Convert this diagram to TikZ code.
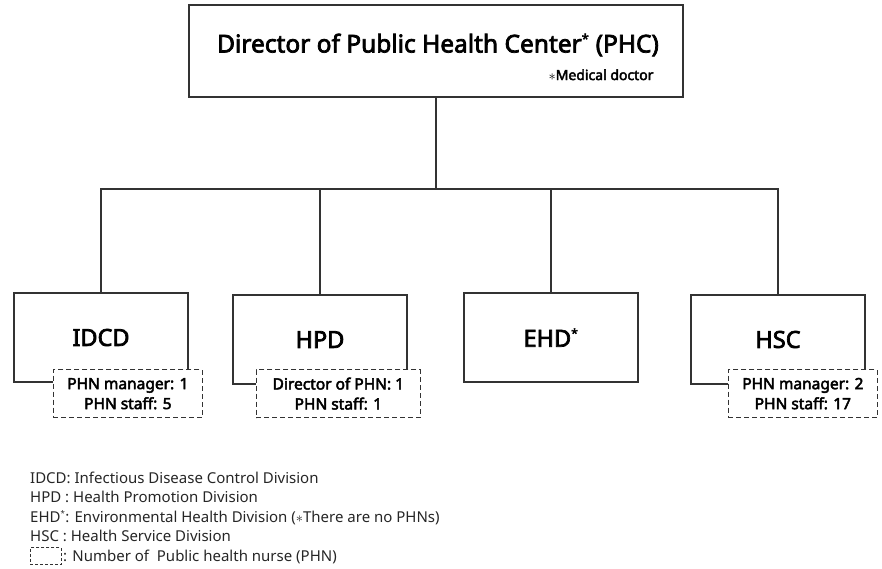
\documentclass[tikz,border=0pt]{standalone}
\usepackage{fontspec}
\setmainfont{Noto Sans}
\newfontfamily\medfont{Noto Sans}[FakeBold=3]
\usetikzlibrary{positioning}
\definecolor{linegray}{HTML}{333333}
\newcommand{\smallast}{\textsuperscript{\scalebox{0.75}{*}}}
\tikzset{
  unitbox/.style={draw=linegray, line width=1.2pt, minimum width=174pt, minimum height=89pt,
    font=\medfont\fontsize{23.5}{28}\selectfont},
  phnbox/.style={draw=linegray, dash pattern=on 5pt off 3pt, fill=white, line width=1.3pt, minimum width=149pt,
    minimum height=48pt, align=center, anchor=north east, inner sep=0pt, font=\medfont\fontsize{15.5}{20}\selectfont},
  link/.style={draw=linegray, line width=1.3pt},
  legend/.style={anchor=base west, inner sep=0pt, text=black!85, font=\fontsize{15}{17}\selectfont}
}
\begin{document}
\begin{tikzpicture}[x=1pt,y=-1pt]
\useasboundingbox (0,0) rectangle (882,568);
% head of the centre
\node[draw=linegray, line width=1.2pt, minimum width=494pt, minimum height=92pt] (phc) at (436,51) {};
\node[font=\medfont\fontsize{24.5}{28}\selectfont] (title) at (438,45) {Director of Public Health Center\smallast{} (PHC)};
\node[anchor=base east, font=\medfont\fontsize{14}{16}\selectfont] (md) at (657,80) {$\ast$Medical doctor};
\coordinate (bus) at (436,189);
% divisions
\node[unitbox] (idcd) at (101,337.5) {IDCD};
\node[unitbox] (hpd) at (320,339.5) {HPD};
\node[unitbox] (ehd) at (551,337.5) {EHD\smallast};
\node[unitbox] (hsc) at (778,339.5) {HSC};
\draw[link] (phc.south) -- (bus);
\draw[link] (idcd.north) |- (bus) -| (hsc.north);
\draw[link] (hpd.north) -- (hpd.north |- bus);
\draw[link] (ehd.north) -- (ehd.north |- bus);
% number of PHN
\node[phnbox] (idcdn) at (203,369) {PHN manager: 1\\PHN staff: 5};
\node[phnbox, minimum width=164pt] (hpdn) at (421,369) {Director of PHN: 1\\PHN staff: 1};
\node[phnbox] (hscn) at (878,369) {PHN manager: 2\\PHN staff: 17};
% legend
\foreach \y/\t in {483/{IDCD: Infectious Disease Control Division},
                   502/{HPD : Health Promotion Division},
                   522/{EHD\smallast: Environmental Health Division ($\ast$There are no PHNs)},
                   541/{HSC : Health Service Division}}
{
	\node[legend] (leg\y) at (30,\y) {\t};
}
\node[draw=linegray, dash pattern=on 3pt off 2pt, line width=0.9pt, minimum width=31pt, minimum height=17pt, inner sep=0pt, anchor=west] (key) at (30,556) {};
\node[legend] (keytext) at (63,561) {: Number of\ \ Public health nurse (PHN)};
\end{tikzpicture}
\end{document}
